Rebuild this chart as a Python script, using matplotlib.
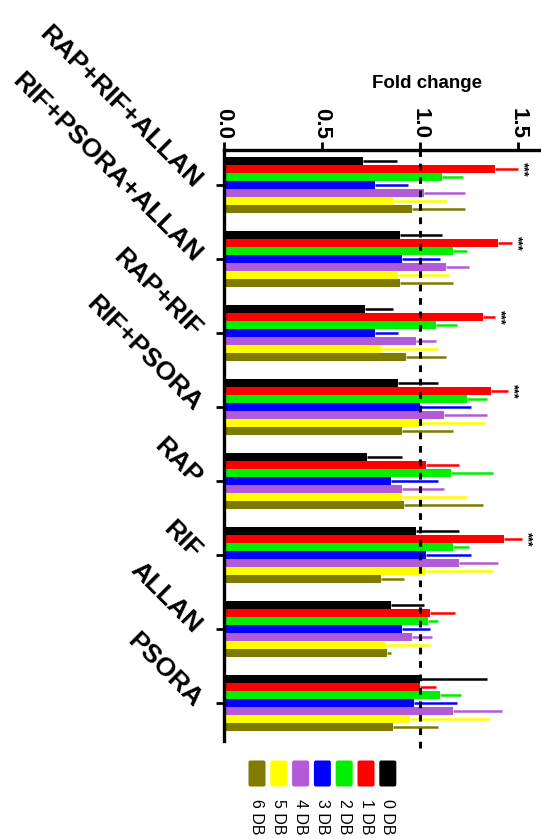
import matplotlib.pyplot as plt
import numpy as np
from matplotlib.patches import FancyBboxPatch

plt.rcParams['font.family'] = ['Liberation Sans', 'DejaVu Sans']

groups = ["RAP+RIF+ALLAN", "RIF+PSORA+ALLAN", "RAP+RIF", "RIF+PSORA",
          "RAP", "RIF", "ALLAN", "PSORA"]
series = ["0 DB", "1 DB", "2 DB", "3 DB", "4 DB", "5 DB", "6 DB"]
colors = ["#000000", "#ff0000", "#00ee00", "#0000ff", "#b25ad8", "#ffff00", "#7f7a00"]

# mean fold change per series, one value per group
mean_0 = [0.71, 0.90, 0.72, 0.89, 0.73, 0.98, 0.85, 1.00]
mean_1 = [1.38, 1.40, 1.32, 1.36, 1.03, 1.43, 1.05, 1.00]
mean_2 = [1.11, 1.17, 1.08, 1.24, 1.16, 1.17, 1.04, 1.10]
mean_3 = [0.77, 0.91, 0.77, 1.00, 0.85, 1.03, 0.91, 0.97]
mean_4 = [1.02, 1.13, 0.98, 1.12, 0.91, 1.20, 0.96, 1.17]
mean_5 = [0.86, 0.89, 0.80, 1.00, 0.91, 1.03, 0.82, 0.95]
mean_6 = [0.96, 0.90, 0.93, 0.91, 0.92, 0.80, 0.83, 0.86]

# error (upper side only)
sem_0 = [0.17, 0.21, 0.14, 0.20, 0.18, 0.22, 0.17, 0.34]
sem_1 = [0.12, 0.07, 0.06, 0.09, 0.17, 0.09, 0.13, 0.08]
sem_2 = [0.11, 0.07, 0.11, 0.10, 0.21, 0.08, 0.05, 0.11]
sem_3 = [0.17, 0.19, 0.12, 0.26, 0.24, 0.23, 0.14, 0.22]
sem_4 = [0.21, 0.12, 0.10, 0.22, 0.21, 0.20, 0.10, 0.25]
sem_5 = [0.28, 0.26, 0.29, 0.33, 0.33, 0.34, 0.23, 0.40]
sem_6 = [0.27, 0.27, 0.20, 0.26, 0.40, 0.12, 0.02, 0.23]

means = [mean_0, mean_1, mean_2, mean_3, mean_4, mean_5, mean_6]
sems = [sem_0, sem_1, sem_2, sem_3, sem_4, sem_5, sem_6]

# groups where 1 DB is marked ***
star_groups = [0, 1, 2, 3, 5]

W, H = 541, 839
fig = plt.figure(figsize=(W / 100, H / 100), dpi=100)
ax = fig.add_axes([224 / W, 1 - 741 / H, 1 - 224 / W, (741 - 150) / H])

y = np.arange(len(groups))
bh = 0.107
for j, (m, s) in enumerate(zip(means, sems)):
    pos = y + (j - 3) * bh
    ax.barh(pos, m, height=bh, color=colors[j], edgecolor="none",
            xerr=[np.zeros(len(s)), s], ecolor=colors[j],
            error_kw=dict(elinewidth=1.8, capsize=0), label=series[j], zorder=2)

for g in star_groups:
    x_end = mean_1[g] + sem_1[g]
    ax.text(x_end + 0.025, g - 2 * bh, "***", rotation=270, fontsize=9,
            fontweight="bold", ha="center", va="center")

ax.axvline(1.0, ymin=-0.012, ymax=1, color="black", linestyle=(0, (2.2, 2.2)),
           linewidth=2.2, clip_on=False, zorder=3)

ax.set_xlim(0, 1.617)
ax.set_ylim(7.51, -0.47)
ax.xaxis.tick_top()
ax.set_xticks([0, 0.5, 1.0, 1.5])
ax.set_xticklabels(["0.0", "0.5", "1.0", "1.5"], fontsize=16, fontweight="bold")
ax.tick_params(axis="x", labelrotation=270, width=2, length=6, pad=2)
ax.set_yticks(y)
ax.set_yticklabels(groups, fontsize=19, fontweight="bold", rotation=-45,
                   ha="right", va="center", rotation_mode="anchor")
ax.tick_params(axis="y", width=2, length=6, pad=13)

for side in ["right", "bottom"]:
    ax.spines[side].set_visible(False)
for side in ["left", "top"]:
    ax.spines[side].set_linewidth(2.4)

fig.text(427 / W, 1 - 83 / H, "Fold change", fontsize=13.5, fontweight="bold",
         ha="center", va="center")

# legend, drawn rotated like the rest of the figure
lax = fig.add_axes([0, 0, 1, 1], zorder=-1)
lax.set_xlim(0, W)
lax.set_ylim(H, 0)
lax.axis("off")
for k, j in enumerate(range(len(series) - 1, -1, -1)):
    cx = 257 + k * 21.8
    lax.add_patch(FancyBboxPatch((cx - 7, 762), 14, 23,
                                 boxstyle="round,pad=1.5,rounding_size=2",
                                 facecolor=colors[j], edgecolor="none"))
    lax.text(cx, 799, series[j], rotation=270, fontsize=11.5, ha="center", va="top")

fig.savefig("out.png", dpi=100)
